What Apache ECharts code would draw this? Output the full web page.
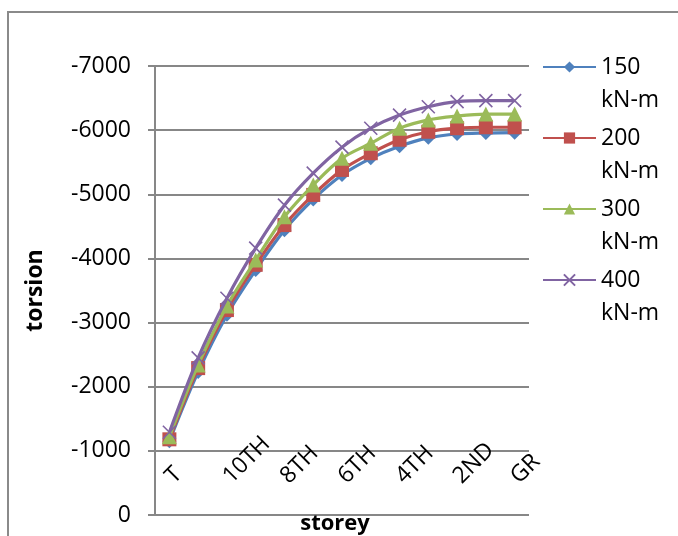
<!DOCTYPE html>
<html>
<head>
<meta charset="utf-8">
<script src="https://cdn.jsdelivr.net/npm/echarts@6/dist/echarts.min.js"></script>
<style>
html,body{margin:0;padding:0;background:#fff;}
#c{width:678px;height:536px;}
</style>
</head>
<body>
<div id="c"></div>
<script>
var storeys = ['T','11TH','10TH','9TH','8TH','7TH','6TH','5TH','4TH','3RD','2ND','1ST','GR'];
var seriesNames = ['150 kN-m','200 kN-m','300 kN-m','400 kN-m'];
var t150 = [-1150,-2230,-3120,-3820,-4440,-4920,-5300,-5560,-5750,-5880,-5940,-5955,-5960];
var t200 = [-1180,-2290,-3195,-3900,-4520,-4990,-5380,-5640,-5850,-5975,-6030,-6045,-6045];
var t300 = [-1220,-2340,-3260,-3975,-4650,-5145,-5560,-5795,-6030,-6160,-6220,-6250,-6250];
var t400 = [-1290,-2450,-3380,-4160,-4830,-5330,-5735,-6030,-6235,-6365,-6445,-6460,-6460];
var yTicks = [0,-1000,-2000,-3000,-4000,-5000,-6000,-7000];

var FONT = 'Open Sans';
var colors = ['#4F81BD','#C0504D','#9BBB59','#8064A2'];
var symbols = ['diamond','rect','triangle','path://M0,0L10,10M10,0L0,10'];
var sizes = [14,14,15,13];
var datasets = [t150,t200,t300,t400];

var series = datasets.map(function(d,i){
  var it = {color: colors[i]};
  if (i === 3) { it = {color: 'rgba(0,0,0,0)', borderColor: colors[i], borderWidth: 1.6}; }
  return {
    name: seriesNames[i],
    type: 'line',
    data: d,
    smooth: 0.35,
    symbol: symbols[i],
    symbolSize: sizes[i],
    lineStyle: {color: colors[i], width: 3.2},
    itemStyle: it,
    emphasis: {disabled: true},
    z: 2 + i
  };
});

var chart = echarts.init(document.getElementById('c'), null, {renderer:'canvas'});
chart.setOption({
  animation: false,
  backgroundColor: '#fff',
  textStyle: {fontFamily: FONT},
  graphic: [{
    type: 'rect', shape: {x: 8, y: 12, width: 720, height: 600},
    style: {fill: 'none', stroke: '#8a8a8a', lineWidth: 2}, silent: true, z: 100
  }],
  legend: {
    orient: 'vertical',
    left: 542, top: 17.5,
    padding: 0,
    itemGap: -28,
    itemWidth: 53, itemHeight: 14,
    data: seriesNames,
    formatter: function(name){ return '\n' + name.replace(' ', '\n'); },
    textStyle: {fontFamily: FONT, fontSize: 23, color: '#000', lineHeight: 33},
    selectedMode: false
  },
  grid: {left: 155, top: 66, width: 374, height: 449, outerBoundsMode: 'none', containLabel: false},
  xAxis: {
    type: 'category',
    data: storeys,
    boundaryGap: true,
    offset: -64.14,
    axisLine: {show: false},
    axisTick: {show: false},
    axisLabel: {
      interval: 1, rotate: 45, align: 'left', verticalAlign: 'middle', margin: 29,
      fontFamily: FONT, fontSize: 23, color: '#000'
    },
    name: 'storey',
    nameLocation: 'middle',
    nameGap: 62,
    nameTextStyle: {fontFamily: FONT, fontSize: 22, fontWeight: 'bold', color: '#000', padding: [0,14,0,0]}
  },
  yAxis: {
    type: 'value',
    inverse: true,
    min: -7000, max: 0, interval: 1000,
    axisLine: {show: true, lineStyle: {color: '#878787', width: 2}},
    axisTick: {show: true, length: 7, lineStyle: {color: '#878787', width: 2}},
    splitLine: {show: true, lineStyle: {color: '#878787', width: 2}},
    axisLabel: {margin: 24, fontFamily: FONT, fontSize: 23, color: '#000',
      formatter: function(v){ return String(v); }},
    name: 'torsion',
    nameLocation: 'middle',
    nameGap: 108,
    nameTextStyle: {fontFamily: FONT, fontSize: 23, fontWeight: 'bold', color: '#000'}
  },
  series: series
});
</script>
</body>
</html>
